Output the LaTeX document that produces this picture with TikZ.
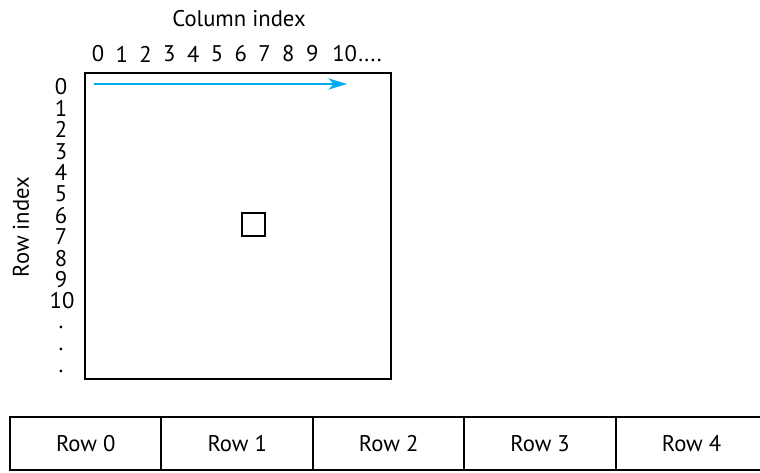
\documentclass[tikz,border=0pt]{standalone}
\usepackage{fontspec}
\setmainfont{PT Sans}
\usetikzlibrary{positioning,arrows.meta}
\definecolor{scanblue}{RGB}{0,174,239}
\tikzset{
  idx/.style={inner sep=0pt,font=\fontsize{17}{17}\selectfont},
  rowbox/.style={draw,line width=1.5pt,outer sep=0pt,minimum width=113.6pt,minimum height=39.75pt,font=\fontsize{17}{17}\selectfont}
}
\begin{document}
\begin{tikzpicture}[x=0.75pt,y=-0.75pt]
\useasboundingbox (0,0) rectangle (760,472);
% image frame
\draw[line width=1.5pt] (85,73) rectangle (391,379);
\node[draw,line width=1.5pt,minimum size=17pt,inner sep=0pt] (px) at (253.5,224.5) {};
% scan direction
\coordinate (scanstart) at (94,84);
\coordinate (scanend) at (347,84);
\draw[-{Stealth[length=14pt,width=8.5pt,inset=4pt]},scanblue,line width=0.9pt] (scanstart) -- (scanend);
% column numbers
\node[idx] (colhead) at (239,19) {Column index};
\foreach \c in {0,...,9}
  \node[idx] (col\c) at (98+23.8*\c,54) {\c};
\node[idx,anchor=west] (col10) at (332,54) {10\kern1pt.\kern1pt.\kern1pt.\kern1pt.};
% row numbers
\foreach \r in {0,...,9}
  \node[idx] (row\r) at (61,87+21.4*\r) {\r};
\node[idx] (row10) at (62,301) {10};
\foreach \d in {0,1,2}
  \node[idx] (dot\d) at (61,327+22*\d) {.};
\node[idx,rotate=90] (rowhead) at (21,227) {Row index};
% row-major storage
\node[rowbox,anchor=north west] (store0) at (10,417) {Row 0};
\foreach \i [count=\j from 1] in {0,...,3}
  \node[rowbox,right=0pt of store\i] (store\j) {Row \j};
\end{tikzpicture}
\end{document}
